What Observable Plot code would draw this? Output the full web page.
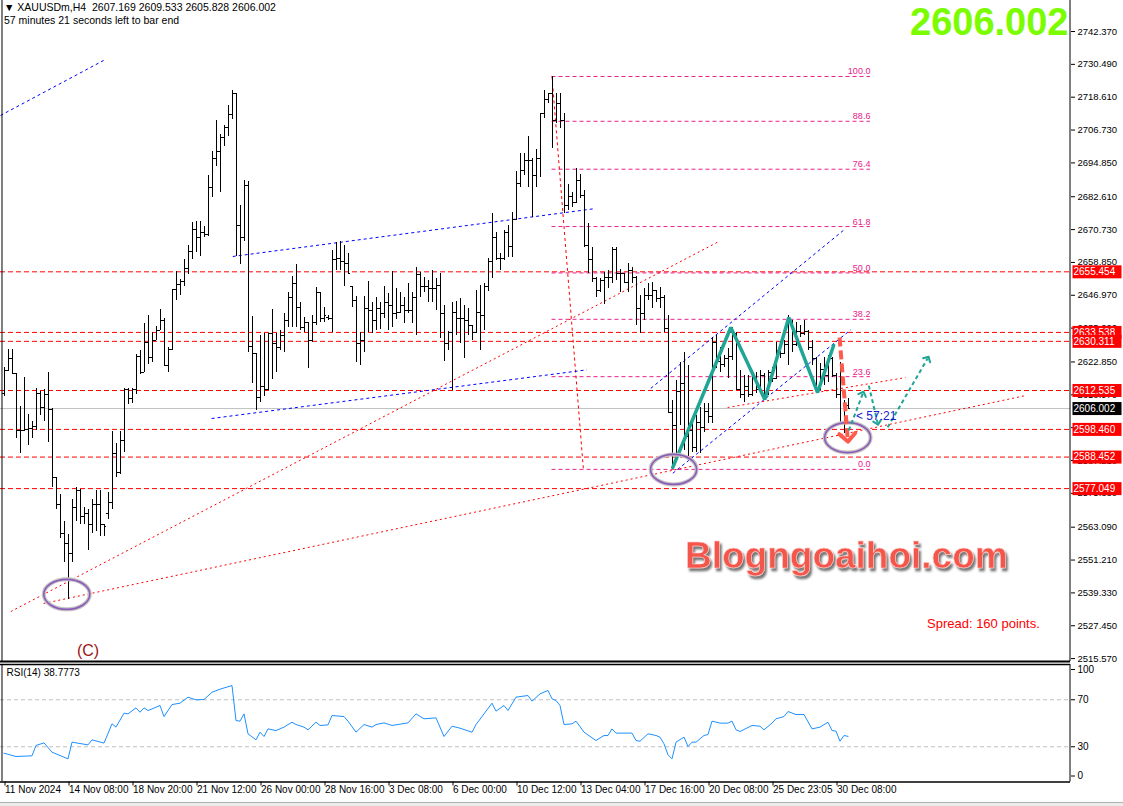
<!DOCTYPE html>
<html><head><meta charset="utf-8">
<script src="https://cdn.jsdelivr.net/npm/d3@7"></script>
<script src="https://cdn.jsdelivr.net/npm/@observablehq/plot@0.6"></script>
<style>
body{margin:0;background:#fff;width:1123px;height:806px;overflow:hidden;position:relative;font-family:"Liberation Sans",Arial,sans-serif}
#main{position:absolute;left:0;top:0}
#rsi{position:absolute;left:0;top:662px}
#ov{position:absolute;left:0;top:0;pointer-events:none}
#strip{position:absolute;left:0;top:802px;width:1123px;height:4px;background:#ececec;border-top:1px solid #b0b0b0}
</style></head><body>
<div id="main"></div><div id="rsi"></div><div id="strip"></div>
<svg id="ov" width="1123" height="806" xmlns="http://www.w3.org/2000/svg">
  <defs><filter id="sh" x="-5%" y="-20%" width="110%" height="150%"><feDropShadow dx="2" dy="3" stdDeviation="1.3" flood-color="#555" flood-opacity="0.8"/></filter></defs>
  <text x="4" y="11" font-size="10.5" fill="#000" style="white-space:pre">▼ XAUUSDm,H4  2607.169 2609.533 2605.828 2606.002</text>
  <text x="4" y="24" font-size="10.5" fill="#000">57 minutes 21 seconds left to bar end</text>
  <text x="685" y="568" font-size="37" font-weight="bold" fill="#f5574b" stroke="#ffd0cc" stroke-width="0.6" filter="url(#sh)">Blogngoaihoi.com</text>
  <text x="927" y="628" font-size="13" fill="#ff0000">Spread: 160 points.</text>
</svg>
<script>
// ---------- data ----------
const barOpen  = [2611.6,2619.6,2624.2,2618.8,2598.2,2598.0,2598.5,2598.8,2599.4,2611.6,2606.4,2611.0,2605.5,2581.0,2571.3,2560.9,2557.2,2553.6,2570.1,2576.2,2567.0,2568.2,2564.0,2571.3,2571.3,2564.0,2568.2,2571.9,2589.6,2582.9,2594.5,2612.8,2609.8,2612.8,2625.0,2618.9,2629.9,2624.4,2630.5,2634.2,2637.9,2621.4,2627.5,2648.9,2650.7,2651.9,2656.8,2662.9,2670.9,2667.8,2669.6,2669.0,2685.8,2696.5,2699.0,2703.9,2707.8,2712.4,2719.8,2672.1,2667.8,2686.5,
2628.4,2626.0,2610.1,2614.0,2613.0,2633.0,2629.4,2628.0,2632.4,2637.9,2646.3,2651.1,2642.7,2635.4,2637.3,2630.6,2637.3,2648.1,2638.5,2639.1,2638.5,2659.8,2660.4,2659.2,2658.6,2650.1,2645.0,2629.4,2630.6,2642.1,2641.5,2637.9,2642.1,2640.3,2644.5,2643.3,2640.3,2640.9,2643.3,2641.5,2641.5,2646.3,2654.5,2650.1,2650.1,2649.3,2649.3,2650.5,2640.3,2629.4,2633.6,2640.9,2638.5,2638.5,2637.9,2636.1,2633.6,2640.9,2639.7,2650.1,
2659.2,2668.0,2660.2,2660.2,2669.8,2664.6,2674.2,2687.3,2692.1,2695.7,2695.7,2690.3,2696.3,2712.8,2717.7,2719.8,2710.2,2716.2,2710.2,2679.4,2682.7,2680.6,2688.5,2683.1,2665.0,2659.8,2652.9,2648.7,2652.3,2653.5,2653.5,2663.4,2654.7,2654.7,2651.7,2655.9,2653.5,2642.1,2640.3,2646.9,2646.9,2648.7,2645.7,2646.0,2635.0,
2604.7,2600.0,2612.0,2615.0,2596.0,2598.0,2592.0,2601.0,2599.0,2605.0,2603.0,2630.0,2623.0,2622.0,2624.0,2625.0,2633.0,2613.0,2611.0,2614.0,2611.0,2617.0,2613.0,2618.0,2611.0,2619.0,2617.0,2627.0,2626.0,2629.0,2637.0,2629.0,2634.0,2633.0,2634.0,2628.0,2624.0,2613.0,2620.0,2618.0,2624.0,2618.0,2611.0,2600.5,2607.169];
const barHigh  = [2620.8,2627.3,2627.3,2618.8,2606.7,2617.1,2603.9,2601.2,2613.2,2612.2,2612.8,2619.0,2606.1,2581.0,2575.0,2565.2,2560.3,2573.1,2577.4,2576.8,2570.1,2569.5,2573.1,2576.2,2576.2,2564.0,2575.6,2597.6,2593.3,2597.6,2613.4,2613.4,2613.2,2625.4,2626.9,2636.7,2639.7,2633.6,2635.8,2641.8,2638.5,2628.1,2648.9,2655.6,2652.5,2659.9,2664.8,2673.3,2673.6,2673.6,2671.9,2690.4,2699.0,2710.2,2705.1,2708.2,2715.5,2721.2,2720.0,2679.4,2688.6,2688.0,
2639.3,2626.0,2632.4,2633.0,2633.3,2641.7,2633.0,2634.2,2640.3,2648.1,2653.8,2658.1,2644.5,2639.1,2637.3,2639.7,2649.9,2648.1,2642.7,2639.7,2663.2,2666.2,2666.5,2665.0,2662.2,2650.1,2646.5,2633.6,2646.5,2652.1,2644.5,2646.3,2644.5,2650.1,2647.7,2655.7,2649.3,2648.1,2646.3,2651.3,2648.1,2656.9,2655.3,2653.5,2652.3,2655.9,2652.9,2655.0,2643.3,2634.0,2644.5,2644.8,2645.7,2643.3,2642.1,2636.1,2648.7,2650.5,2651.1,2660.4,
2676.4,2669.8,2662.0,2670.4,2672.2,2677.0,2691.7,2698.1,2698.1,2704.4,2696.3,2699.6,2712.8,2721.0,2720.1,2726.1,2720.1,2719.8,2712.6,2687.0,2684.3,2692.7,2690.6,2684.9,2672.8,2664.4,2653.5,2652.9,2655.3,2655.9,2664.1,2664.1,2656.2,2654.7,2658.6,2656.9,2653.8,2646.9,2649.3,2651.1,2651.7,2648.7,2649.9,2647.0,2639.7,
2608.9,2616.0,2622.8,2626.4,2621.6,2601.1,2603.5,2606.5,2607.7,2607.7,2631.8,2632.4,2628.2,2625.2,2627.6,2635.4,2633.6,2619.8,2617.9,2617.9,2619.2,2619.2,2619.8,2618.5,2619.8,2621.0,2630.0,2629.4,2630.6,2639.7,2637.9,2637.3,2636.0,2637.9,2634.2,2630.6,2624.6,2622.2,2624.6,2625.2,2624.5,2618.5,2622.8,2608.9,2609.533];
const barLow   = [2610.4,2619.3,2618.6,2595.1,2589.6,2597.6,2592.7,2595.1,2598.2,2603.4,2601.2,2593.9,2577.4,2569.5,2559.1,2550.5,2537.1,2550.5,2565.2,2564.0,2564.0,2554.8,2560.9,2561.5,2559.7,2559.7,2566.0,2569.5,2581.0,2582.3,2590.2,2607.3,2607.9,2611.0,2618.4,2618.9,2622.0,2622.6,2630.5,2634.2,2621.4,2618.9,2626.9,2645.2,2647.0,2650.1,2654.4,2659.9,2662.3,2661.1,2667.8,2668.4,2682.5,2693.5,2684.3,2700.8,2704.5,2710.6,2661.1,2658.0,2666.6,2626.3,
2615.2,2605.3,2608.3,2610.5,2612.5,2616.4,2619.2,2627.0,2626.4,2635.4,2635.4,2635.4,2634.2,2633.6,2620.4,2630.0,2636.1,2637.3,2637.3,2637.9,2633.6,2655.9,2655.9,2650.1,2655.0,2642.7,2622.8,2621.6,2626.4,2633.6,2633.3,2634.2,2634.5,2638.5,2634.2,2635.2,2638.1,2640.3,2636.6,2640.3,2636.6,2632.4,2646.3,2648.1,2644.5,2644.5,2641.5,2631.2,2623.1,2627.0,2612.5,2632.4,2629.7,2624.0,2632.4,2630.6,2633.0,2627.0,2634.2,2648.5,
2652.9,2659.6,2656.0,2659.6,2660.8,2660.8,2674.0,2686.0,2690.3,2686.1,2675.2,2686.1,2689.7,2710.8,2716.2,2699.9,2709.0,2707.2,2676.4,2677.6,2678.8,2680.0,2681.9,2664.4,2654.7,2651.7,2646.0,2648.1,2643.6,2649.3,2651.1,2652.3,2648.1,2651.1,2648.1,2651.1,2636.0,2633.0,2637.9,2645.1,2642.1,2644.5,2642.1,2633.6,2604.1,
2584.2,2588.0,2600.0,2591.0,2588.4,2590.2,2590.2,2589.6,2597.5,2600.5,2600.5,2620.4,2619.2,2621.0,2616.8,2623.4,2612.5,2609.5,2608.3,2610.0,2610.5,2611.3,2611.9,2608.9,2610.7,2615.5,2616.5,2624.0,2625.5,2621.6,2626.4,2628.5,2631.8,2632.5,2627.0,2621.6,2611.9,2612.5,2614.3,2615.5,2617.4,2609.5,2599.9,2596.9,2605.828];
const barClose = [2619.6,2624.2,2618.8,2598.2,2598.0,2598.5,2598.8,2599.4,2611.6,2606.4,2611.0,2605.5,2581.0,2571.3,2560.9,2557.2,2553.6,2570.1,2576.2,2567.0,2568.2,2564.0,2571.3,2571.3,2564.0,2563.3,2571.9,2589.6,2582.9,2594.5,2612.8,2609.8,2612.8,2625.0,2618.9,2629.9,2624.4,2630.5,2634.2,2637.9,2621.4,2627.5,2648.9,2650.7,2651.9,2656.8,2662.9,2670.9,2667.8,2669.6,2669.0,2685.8,2696.5,2699.0,2703.9,2707.8,2712.4,2719.8,2672.1,2667.8,2686.5,2628.4,
2626.0,2610.1,2614.0,2613.0,2633.0,2629.4,2628.0,2632.4,2637.9,2646.3,2651.1,2642.7,2635.4,2637.3,2630.6,2637.3,2648.1,2638.5,2639.7,2638.5,2659.8,2660.4,2659.2,2658.6,2655.0,2645.0,2629.4,2630.6,2642.1,2641.5,2637.9,2642.1,2640.3,2644.5,2643.3,2640.3,2640.9,2643.3,2641.5,2641.5,2646.3,2654.5,2650.1,2650.1,2649.3,2649.3,2650.5,2640.3,2629.4,2633.6,2640.9,2638.5,2638.5,2637.9,2636.1,2633.6,2640.9,2639.7,2650.1,2659.2,
2668.0,2660.2,2660.2,2669.8,2664.6,2674.2,2687.3,2692.1,2695.7,2695.7,2690.3,2696.3,2712.8,2717.7,2719.8,2710.2,2716.2,2710.2,2679.4,2682.7,2680.6,2688.5,2683.1,2665.0,2659.8,2652.9,2648.7,2652.3,2653.5,2653.5,2663.4,2654.7,2654.7,2651.7,2655.9,2653.5,2642.1,2640.3,2646.9,2646.9,2648.7,2645.7,2646.0,2635.0,2604.7,
2600.0,2612.0,2615.0,2596.0,2598.0,2592.0,2601.0,2599.0,2605.0,2603.0,2630.0,2623.0,2622.0,2624.0,2625.0,2633.0,2613.0,2611.0,2614.0,2611.0,2617.0,2613.0,2618.0,2611.0,2619.0,2617.0,2627.0,2626.0,2629.0,2637.0,2629.0,2634.0,2633.0,2634.0,2628.0,2624.0,2613.0,2620.0,2618.0,2624.0,2618.0,2611.0,2600.5,2607.5,2606.002];

const rsiBar = [0,3,7,8,10,12,16,17,21,22,25,27,28,30,31,33,34,35,36,39,40,42,44,46,48,50,52,54,57,58,59,60,61,63,64,65,66,68,70,72,73,75,76,78,79,81,82,85,86,88,90,92,93,95,97,101,103,105,108,110,112,114,117,118,120,122,123,125,126,128,131,132,134,136,137,138,139,140,142,143,145,148,150,151,152,153,157,158,159,161,163,164,165,166,167,168,170,171,172,173,175,176,177,179,181,182,183,184,187,189,190,192,193,195,196,198,200,202,204,206,207,208,209,210,211];
const rsiVal = [24.5,21.7,22.3,31.1,33.3,25.4,19.7,33.9,31.6,35.9,33.1,49.5,46.7,58.6,58.0,63.1,59.4,63.1,60.8,65.1,55.7,65.9,67.1,72.2,69.9,70.2,76.4,79.0,82.1,52.3,51.8,58.0,41.0,35.9,42.4,38.7,45.2,43.8,46.7,50.9,48.9,46.7,44.4,50.9,48.1,48.6,56.6,55.7,51.8,42.4,48.9,46.7,48.9,50.3,48.1,50.3,58.0,53.8,54.6,38.7,47.5,45.8,42.4,48.9,58.0,67.1,60.3,65.1,60.8,72.2,73.6,68.8,75.0,77.9,70.8,69.4,65.1,48.9,49.5,51.8,42.4,35.3,39.6,39.6,45.2,41.6,41.6,35.3,34.7,41.0,39.6,38.1,32.5,23.1,19.7,33.9,38.2,30.2,33.9,33.9,39.6,40.4,51.8,50.1,50.1,51.8,44.4,43.0,48.1,47.5,44.4,50.1,53.8,55.7,60.0,57.4,57.4,45.2,46.7,50.9,43.8,43.3,34.7,39.6,38.8];
const rsiLastText = "38.7773";

const priceTicks = [2742.370,2730.490,2718.610,2706.730,2694.850,2682.610,2670.730,2658.850,2646.970,2635.090,2622.850,2610.970,2599.090,2587.210,2575.330,2563.090,2551.210,2539.330,2527.450,2515.570];
const tickBars = [0,16,32,48,64,80,96,112,128,144,160,176,192,208];
const tickLabels = ["11 Nov 2024","14 Nov 08:00","18 Nov 20:00","21 Nov 12:00","26 Nov 00:00","28 Nov 16:00","3 Dec 08:00","6 Dec 00:00","10 Dec 12:00","13 Dec 04:00","17 Dec 16:00","20 Dec 08:00","25 Dec 23:05","30 Dec 08:00"];

const levelPrices = [2655.454,2633.538,2630.311,2612.535,2598.460,2588.452,2577.049];
const lastPrice = 2606.002;
const lastBar = 211;

const fibRatios = [100,88.6,76.4,61.8,50,38.2,23.6,0];
const fibLabels = ["100.0","88.6","76.4","61.8","50.0","38.2","23.6","0.0"];
const fibHigh = 2726.1, fibLow = 2584.0, fibStartBar = 137, fibEndBar = 144.85, fibRightBar = 216.6;

const blueLines = [
  {x1:-0.87,y1:2712.0,x2:24.9,y2:2731.9},
  {x1:57.2,y1:2661.0,x2:147.7,y2:2678.3},
  {x1:51.9,y1:2602.4,x2:145.7,y2:2620.0},
  {x1:161.7,y1:2613.3,x2:210.4,y2:2671.1},
  {x1:167.2,y1:2582.6,x2:211.7,y2:2634.5}
];
const redLines = [
  {x1:1.7,y1:2532.6,x2:178.7,y2:2666.4},
  {x1:9.9,y1:2535.5,x2:255.4,y2:2610.7},
  {x1:180.9,y1:2606.4,x2:225.4,y2:2617.2}
];
const zigBars = [167.2,181.7,190.2,196.2,203.4,207.4];
const zigPrices = [2584.7,2635.3,2609.3,2638.9,2611.8,2628.8];
const circleBars = [15.7,167.4,210.9];
const circlePrices = [2538.8,2584.0,2595.5];
const redArrow = [{x1:208.9,y1:2631.7,x2:210.9,y2:2595.5}];
const tealArrows = [
  {x1:211.2,y1:2598.1,x2:214.7,y2:2611.4},
  {x1:216.2,y1:2614.3,x2:218.4,y2:2600.9},
  {x1:220.9,y1:2599.2,x2:230.9,y2:2624.1}
];
const waveLabel = "(C)", waveBar = 16;

// ---------- helpers ----------
const bars = barOpen.map((o, i) => ({i, o, h: barHigh[i], l: barLow[i], c: barClose[i]}));
const fibPrice = r => fibLow + r / 100 * (fibHigh - fibLow);
const zig = zigBars.map((b, i) => ({b, p: zigPrices[i]}));
const circles = circleBars.map((b, i) => ({b, p: circlePrices[i]}));
const rsi = rsiBar.map((b, i) => ({b, v: rsiVal[i]}));
const ellipseSymbol = {draw(ctx) {
  const rx = 23, ry = 15, k = 0.5523;
  ctx.moveTo(rx, 0);
  ctx.bezierCurveTo(rx, ry*k, rx*k, ry, 0, ry);
  ctx.bezierCurveTo(-rx*k, ry, -rx, ry*k, -rx, 0);
  ctx.bezierCurveTo(-rx, -ry*k, -rx*k, -ry, 0, -ry);
  ctx.bezierCurveTo(rx*k, -ry, rx, -ry*k, rx, 0);
  ctx.closePath();
}};
function withBg(color) {
  return function(index, scales, values, dims, context, next) {
    const g = next(index, scales, values, dims, context);
    const texts = g.querySelectorAll("text");
    const x0 = dims.width - dims.marginRight - 1;
    texts.forEach((t, k) => {
      const i = index[k];
      const r = document.createElementNS("http://www.w3.org/2000/svg", "rect");
      r.setAttribute("x", x0); r.setAttribute("y", values.y[i] - 6.5);
      r.setAttribute("width", 49); r.setAttribute("height", 13);
      r.setAttribute("fill", color); r.setAttribute("stroke", "none");
      t.parentNode.insertBefore(r, t);
    });
    return g;
  };
}
const font = "'Liberation Sans', Arial, sans-serif";
const xDomain = [-0.875, 266.625];

const mainPlot = Plot.plot({
  width: 1123, height: 662, marginTop: 0, marginRight: 53, marginBottom: 1, marginLeft: 0,
  style: {fontFamily: font, fontSize: "9.5px", color: "black", background: "transparent", overflow: "visible"},
  x: {type: "linear", domain: xDomain, axis: null, label: null},
  y: {type: "linear", domain: [2514.518, 2753.582], axis: null, label: null},
  marks: [
    Plot.ruleY([lastPrice], {stroke: "#c0c0c0"}),
    Plot.ruleY(levelPrices, {stroke: "#ff0000", strokeDasharray: "5,3"}),
    Plot.ruleY(fibRatios, {y: fibPrice, x1: () => fibStartBar, x2: () => fibRightBar, stroke: "#e8218a", strokeDasharray: "4,3"}),
    Plot.text(fibRatios, {x: () => fibRightBar, y: fibPrice, text: (d, i) => fibLabels[i], textAnchor: "end", lineAnchor: "bottom", dy: -2, fill: "#e8218a", fontSize: 9}),
    Plot.link([{x1: fibStartBar, y1: fibHigh, x2: fibEndBar, y2: fibLow}], {x1: "x1", y1: "y1", x2: "x2", y2: "y2", stroke: "#ff0000", strokeDasharray: "3,3"}),
    Plot.link(blueLines, {x1: "x1", y1: "y1", x2: "x2", y2: "y2", stroke: "#0000ff", strokeDasharray: "3,3"}),
    Plot.link(redLines, {x1: "x1", y1: "y1", x2: "x2", y2: "y2", stroke: "#ff0000", strokeDasharray: "2,3"}),
    Plot.ruleX(bars, {x: "i", y1: "l", y2: "h", stroke: "black", strokeWidth: 1, shapeRendering: "crispEdges"}),
    Plot.link(bars, {x1: d => d.i - 0.4, x2: d => d.i, y1: "o", y2: "o", stroke: "black", shapeRendering: "crispEdges"}),
    Plot.link(bars, {x1: d => d.i, x2: d => d.i + 0.4, y1: "c", y2: "c", stroke: "black", shapeRendering: "crispEdges"}),
    Plot.line(zig, {x: "b", y: "p", stroke: "#1fa595", strokeWidth: 3.5, strokeLinejoin: "miter"}),
    Plot.dot(circles, {x: "b", y: "p", symbol: ellipseSymbol, stroke: "#c4c4c4", strokeWidth: 4, fill: "none"}),
    Plot.dot(circles, {x: "b", y: "p", symbol: ellipseSymbol, stroke: "#8c5cb8", strokeWidth: 1.6, fill: "none"}),
    Plot.link(redArrow, {x1: "x1", y1: "y1", x2: "x2", y2: "y2", stroke: "#ff5b4d", strokeWidth: 4, strokeDasharray: "9,4", markerEnd: "arrow"}),
    Plot.link(tealArrows, {x1: "x1", y1: "y1", x2: "x2", y2: "y2", stroke: "#1fa595", strokeWidth: 2, strokeDasharray: "4,3", markerEnd: "arrow"}),
    Plot.text(["< 57:21"], {x: () => lastBar, y: () => lastPrice, text: d => d, dx: 8, dy: 8, textAnchor: "start", fill: "#1818d0", fontSize: 12}),
    Plot.text([waveLabel], {x: () => waveBar, frameAnchor: "bottom", dx: 20, dy: -6, text: d => d, fill: "#9b1414", fontSize: 16}),
    Plot.text([lastPrice], {frameAnchor: "top-right", text: d => d.toFixed(3), lineAnchor: "top", dx: -2, dy: 8, fontSize: 38, fontWeight: "bold", fill: "#7cfc00"}),
    Plot.ruleX([-0.5, 266.5], {stroke: "black"}),
    Plot.ruleY([2514.518], {stroke: "black", strokeWidth: 2}),
    Plot.axisY(priceTicks, {anchor: "right", tickSize: 4, tickPadding: 3, tickFormat: d => d.toFixed(3), fontSize: 9.5, label: null}),
    Plot.text(levelPrices, {y: d => d, frameAnchor: "right", dx: 3, textAnchor: "start", text: d => d.toFixed(3), fill: "white", fontSize: 10, render: withBg("#ff0000")}),
    Plot.text([lastPrice], {y: d => d, frameAnchor: "right", dx: 3, textAnchor: "start", text: d => d.toFixed(3), fill: "white", fontSize: 10, render: withBg("#000000")})
  ]
});
mainPlot.querySelectorAll("marker").forEach(m => m.setAttribute("stroke-dasharray", "none"));
document.getElementById("main").appendChild(mainPlot);

const rsiPlot = Plot.plot({
  width: 1123, height: 144, marginTop: 2, marginRight: 53, marginBottom: 24.5, marginLeft: 0,
  style: {fontFamily: font, fontSize: "10px", color: "black", background: "transparent", overflow: "visible"},
  x: {type: "linear", domain: xDomain, axis: null, label: null},
  y: {domain: [0, 100], axis: null, label: null},
  marks: [
    Plot.ruleY([30, 70], {stroke: "#c0c0c0", strokeDasharray: "4,3"}),
    Plot.line(rsi, {x: "b", y: "v", stroke: "#1e90ff", strokeWidth: 1}),
    Plot.ruleX([-0.5, 266.5], {stroke: "black"}),
    Plot.ruleY([0, 100], {stroke: "black", strokeWidth: 1.5}),
    Plot.axisY([30, 70], {anchor: "right", tickSize: 4, tickPadding: 3, tickFormat: d => String(d), label: null}),
    Plot.axisY([100], {anchor: "right", tickSize: 4, tickPadding: 3, dy: 5, tickFormat: d => String(d), label: null}),
    Plot.axisY([0], {anchor: "right", tickSize: 4, tickPadding: 3, dy: -6, tickFormat: d => String(d), label: null}),
    Plot.axisX(tickBars, {anchor: "bottom", tickSize: 4, tickPadding: 0, textAnchor: "start", dx: 1, fontSize: 10, label: null, tickFormat: d => tickLabels[tickBars.indexOf(d)]}),
    Plot.text(["RSI(14) " + rsiLastText], {frameAnchor: "top-left", dx: 6, dy: 4, lineAnchor: "top", text: d => d, fontSize: 10})
  ]
});
document.getElementById("rsi").appendChild(rsiPlot);
</script>
</body></html>
